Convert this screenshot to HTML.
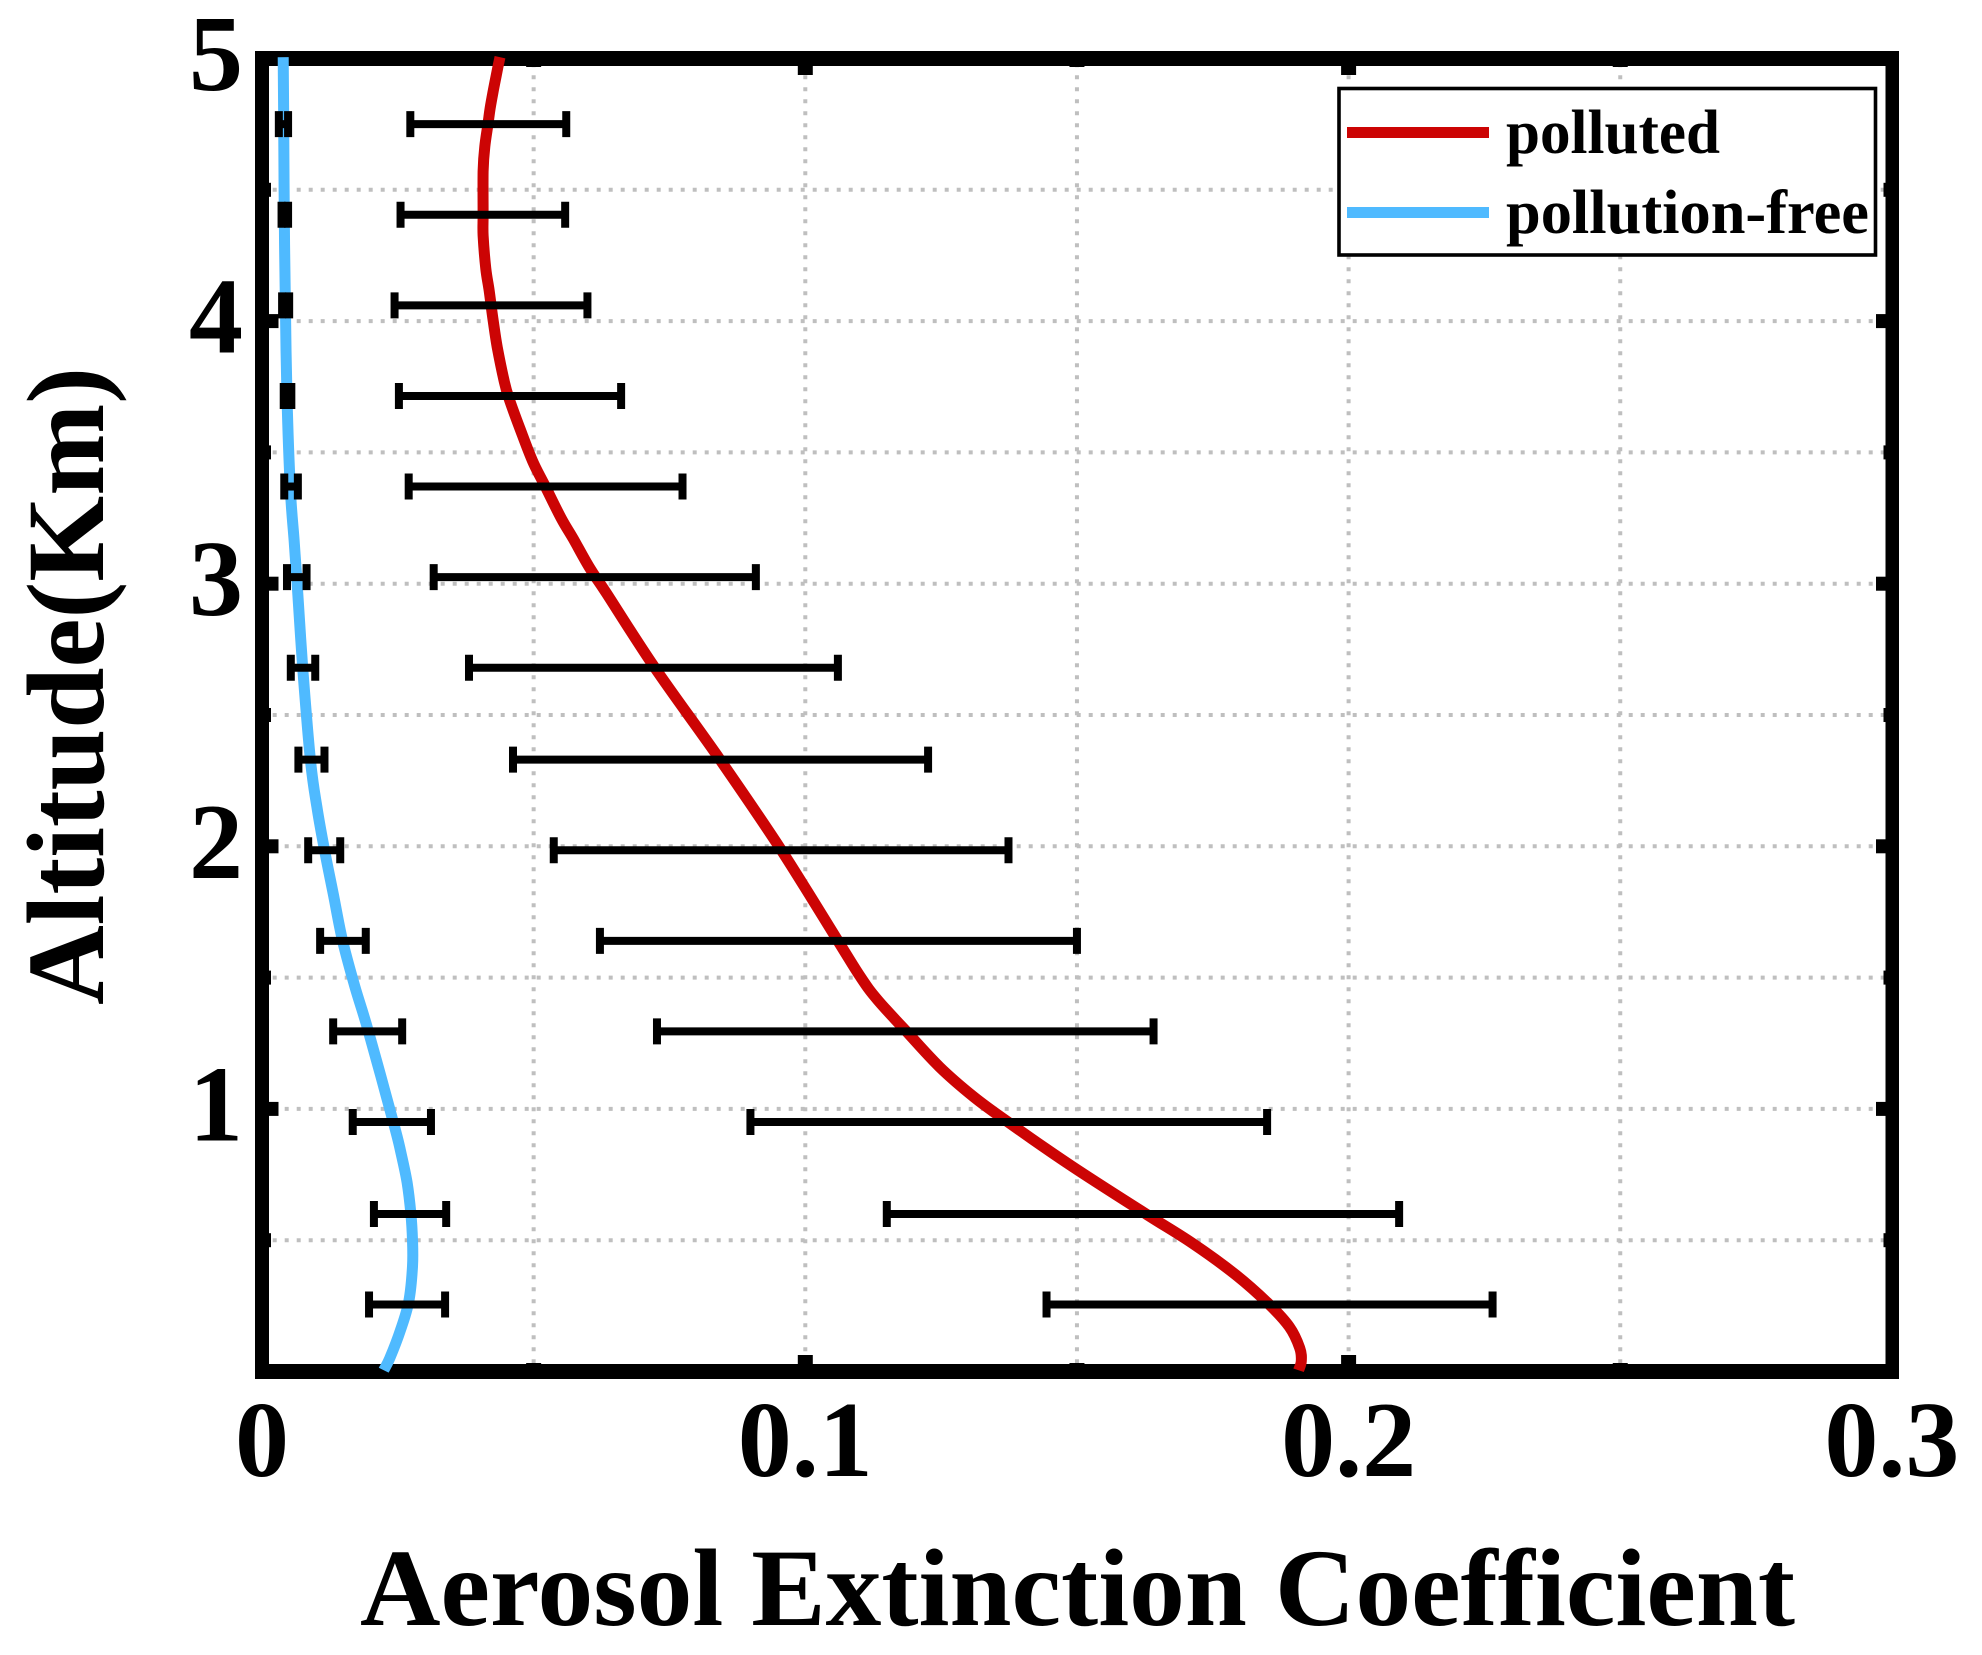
<!DOCTYPE html>
<html lang="en">
<head>
<meta charset="utf-8">
<title>Aerosol Extinction Coefficient by Altitude</title>
<style>
html,body{margin:0;padding:0;background:#fff;}
svg{display:block;}
text{font-family:"Liberation Serif","Times New Roman",serif;font-weight:bold;fill:#000;}
</style>
</head>
<body>
<svg id="chart" xmlns="http://www.w3.org/2000/svg" width="1982" height="1655" viewBox="0 0 1982 1655">
<rect x="0" y="0" width="1982" height="1655" fill="#ffffff"/>
<g id="grid"></g>
<g id="frame"></g>
<g id="series"></g>
<g id="bars"></g>
<g id="labels"></g>
<text x="360" y="1625" font-size="110" textLength="1435" lengthAdjust="spacingAndGlyphs">Aerosol Extinction Coefficient</text>
<text transform="translate(103,1005) rotate(-90)" font-size="110" textLength="638" lengthAdjust="spacingAndGlyphs">Altitude(Km)</text>
<g>
<rect x="1339" y="88.5" width="536.5" height="166.5" fill="#ffffff" stroke="#000000" stroke-width="3.6"/>
<rect x="1347" y="127" width="142" height="11" fill="#cc0404"/>
<text x="1506" y="153" font-size="62" textLength="214" lengthAdjust="spacingAndGlyphs">polluted</text>
<rect x="1347" y="207" width="142" height="11" fill="#4fbaff"/>
<text x="1506" y="233" font-size="62" textLength="363" lengthAdjust="spacingAndGlyphs">pollution-free</text>
</g>
</svg>
<script>
var xTickValues = [0, 0.1, 0.2, 0.3];
var xTickLabels = ['0', '0.1', '0.2', '0.3'];
var xMinorValues = [0.05, 0.15, 0.25];
var yTickValues = [1, 2, 3, 4, 5];
var yTickLabels = ['1', '2', '3', '4', '5'];
var yMinorValues = [0.5, 1.5, 2.5, 3.5, 4.5];

var pollutedAltitude = [5.005, 4.934, 4.88, 4.812, 4.751, 4.664, 4.57, 4.406, 4.326, 4.2, 4.118, 4.009, 3.901, 3.778, 3.709, 3.589, 3.467, 3.372, 3.248, 3.171, 3.057, 2.964, 2.68, 2.33, 1.985, 1.64, 1.498, 1.415, 1.295, 1.16, 1.046, 0.95, 0.78, 0.6, 0.489, 0.367, 0.255, 0.17, 0.09, 0.04, 0.005];
var pollutedValue = [0.0438, 0.0431, 0.0426, 0.042, 0.0416, 0.041, 0.0407, 0.0407, 0.0407, 0.0412, 0.0418, 0.0425, 0.0433, 0.0445, 0.0454, 0.0475, 0.0498, 0.0521, 0.0551, 0.0573, 0.0604, 0.0634, 0.0723, 0.0843, 0.0956, 0.106, 0.1103, 0.1133, 0.1186, 0.1247, 0.131, 0.1373, 0.1492, 0.1627, 0.1712, 0.1793, 0.1854, 0.1891, 0.191, 0.1913, 0.1908];

var cleanAltitude = [5.005, 4.75, 4.405, 4.06, 3.71, 3.365, 3.166, 3.02, 2.68, 2.33, 2.15, 1.986, 1.82, 1.643, 1.465, 1.294, 0.94, 0.83, 0.72, 0.6, 0.5, 0.4, 0.265, 0.158, 0.05, 0.005];
var cleanValue = [0.0039, 0.004, 0.0041, 0.0043, 0.0046, 0.0052, 0.0059, 0.0064, 0.0075, 0.0089, 0.0101, 0.0115, 0.0131, 0.0148, 0.0171, 0.0196, 0.0243, 0.0256, 0.0267, 0.0274, 0.0277, 0.0277, 0.027, 0.0255, 0.0235, 0.0224];

var barAltitude = [4.75, 4.405, 4.06, 3.715, 3.37, 3.025, 2.68, 2.33, 1.985, 1.64, 1.295, 0.95, 0.6, 0.255];
var pollutedLow = [0.0273, 0.0255, 0.0244, 0.0252, 0.027, 0.0316, 0.0381, 0.0462, 0.0537, 0.0622, 0.0727, 0.0899, 0.115, 0.1444];
var pollutedHigh = [0.056, 0.0558, 0.0599, 0.0661, 0.0774, 0.0909, 0.106, 0.1226, 0.1374, 0.15, 0.1641, 0.185, 0.2093, 0.2265];
var cleanLow = [0.0031, 0.0036, 0.0037, 0.004, 0.0041, 0.0046, 0.0053, 0.0067, 0.0085, 0.0107, 0.0131, 0.0167, 0.0206, 0.0197];
var cleanHigh = [0.0048, 0.0048, 0.005, 0.0054, 0.0066, 0.0082, 0.0098, 0.0115, 0.0144, 0.0191, 0.0258, 0.0311, 0.0339, 0.0337];

function xScale(v) { return 262 + 5433 * v; }
function yScale(a) { return 1371.5 - 262.6 * a; }

var NS = 'http://www.w3.org/2000/svg';
function make(tag, parent, attrs) {
  var el = document.createElementNS(NS, tag);
  for (var k in attrs) { el.setAttribute(k, attrs[k]); }
  parent.appendChild(el);
  return el;
}

var gridG = document.getElementById('grid');
var frameG = document.getElementById('frame');
var seriesG = document.getElementById('series');
var barsG = document.getElementById('bars');
var labelsG = document.getElementById('labels');

var FL = 255, FLI = 269, FRI = 1885.5, FR = 1899, FT = 51, FTI = 66, FBI = 1364, FB = 1379;

function addVGrid(v) {
  var l = make('line', gridG, {x1: xScale(v), x2: xScale(v), y1: 63.3, y2: 1370, stroke: '#bfbfbf', 'stroke-width': 4, 'stroke-dasharray': '4 8'});
  
  
}
function addHGrid(a) {
  var l = make('line', gridG, {x1: 260.7, x2: 1892, y1: yScale(a), y2: yScale(a), stroke: '#bfbfbf', 'stroke-width': 4, 'stroke-dasharray': '4 8'});
  
  
}
[0.05, 0.1, 0.15, 0.2, 0.25].forEach(addVGrid);
[0.5, 1, 1.5, 2, 2.5, 3, 3.5, 4, 4.5].forEach(addHGrid);

function addFrameRect(x, y, w, h, name) {
  var r = make('rect', frameG, {x: x, y: y, width: w, height: h, fill: '#000'});
  
  
}
addFrameRect(FL, FT, FR - FL, FTI - FT, 'frame-top');
addFrameRect(FL, FBI, FR - FL, FB - FBI, 'frame-bottom');
addFrameRect(FL, FT, FLI - FL, FB - FT, 'frame-left');
addFrameRect(FRI, FT, FR - FRI, FB - FT, 'frame-right');

function addXTicks(values, len, name) {
  values.forEach(function (v) {
    if (v <= 0 || v >= 0.3) { return; }
    addFrameRect(xScale(v) - 7.5, FTI, 15, len, name + '-top');
    addFrameRect(xScale(v) - 7.5, FBI - len, 15, len, name + '-bottom');
  });
}
function addYTicks(values, len, name) {
  values.forEach(function (a) {
    if (a >= 5) { return; }
    addFrameRect(FLI, yScale(a) - 7, len, 14, name + '-left');
    addFrameRect(FRI - len, yScale(a) - 7, len, 14, name + '-right');
  });
}
addXTicks(xTickValues, 9, 'x-major-tick');
addXTicks(xMinorValues, 1, 'x-minor-tick');
addYTicks(yTickValues, 9.5, 'y-major-tick');
addYTicks(yMinorValues, 2, 'y-minor-tick');

/* Catmull-Rom smoothing through the data points */
function smoothPath(alts, vals) {
  var p = alts.map(function (a, i) { return [xScale(vals[i]), yScale(a)]; });
  var d = 'M' + p[0][0].toFixed(1) + ' ' + p[0][1].toFixed(1);
  for (var i = 0; i < p.length - 1; i++) {
    var p0 = p[Math.max(i - 1, 0)], p1 = p[i], p2 = p[i + 1], p3 = p[Math.min(i + 2, p.length - 1)];
    var c1x = p1[0] + (p2[0] - p0[0]) / 6, c1y = p1[1] + (p2[1] - p0[1]) / 6;
    var c2x = p2[0] - (p3[0] - p1[0]) / 6, c2y = p2[1] - (p3[1] - p1[1]) / 6;
    d += ' C' + c1x.toFixed(1) + ' ' + c1y.toFixed(1) + ' ' + c2x.toFixed(1) + ' ' + c2y.toFixed(1) + ' ' + p2[0].toFixed(1) + ' ' + p2[1].toFixed(1);
  }
  return d;
}
var cleanLine = make('path', seriesG, {d: smoothPath(cleanAltitude, cleanValue), fill: 'none', stroke: '#4fbaff', 'stroke-width': 11, 'stroke-linejoin': 'round'});


var pollutedLine = make('path', seriesG, {d: smoothPath(pollutedAltitude, pollutedValue), fill: 'none', stroke: '#cc0404', 'stroke-width': 11, 'stroke-linejoin': 'round'});



function addErrorBar(a, lo, hi, name) {
  var y = yScale(a), x1 = xScale(lo), x2 = xScale(hi);
  var g = make('g', barsG, {stroke: '#000', fill: 'none'});
  
  
  make('line', g, {x1: x1, x2: x2, y1: y, y2: y, 'stroke-width': 8});
  make('line', g, {x1: x1, x2: x1, y1: y - 13, y2: y + 13, 'stroke-width': 8});
  make('line', g, {x1: x2, x2: x2, y1: y - 13, y2: y + 13, 'stroke-width': 8});
}
barAltitude.forEach(function (a, i) {
  addErrorBar(a, cleanLow[i], cleanHigh[i], 'pollution-free-error-bar');
  addErrorBar(a, pollutedLow[i], pollutedHigh[i], 'polluted-error-bar');
});

xTickValues.forEach(function (v, i) {
  var t = make('text', labelsG, {x: xScale(v), y: 1476, 'font-size': 108, 'text-anchor': 'middle'});
  
  
  t.textContent = xTickLabels[i];
});
yTickValues.forEach(function (a, i) {
  var t = make('text', labelsG, {x: 243, y: yScale(a) + 31.5, 'font-size': 108, 'text-anchor': 'end'});
  
  
  t.textContent = yTickLabels[i];
});
</script>
</body>
</html>
